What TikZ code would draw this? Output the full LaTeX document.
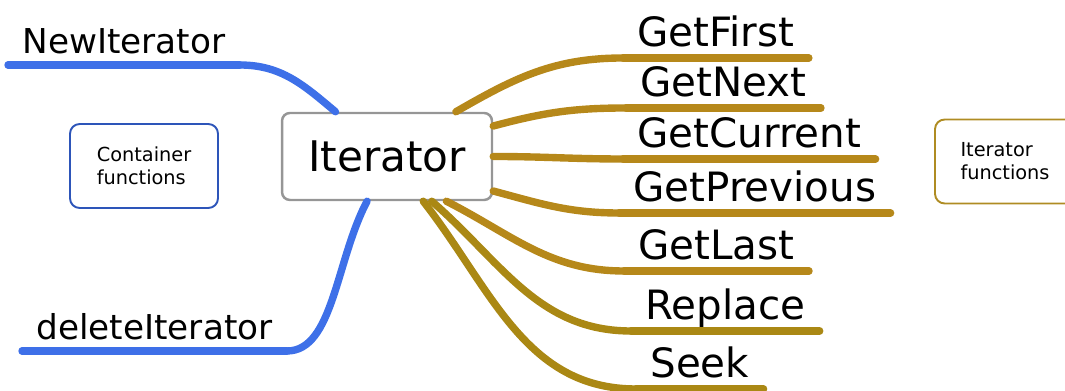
\documentclass[tikz,border=0pt]{standalone}
\usepackage{fontspec}
\setmainfont{DejaVu Sans}
\definecolor{branchblue}{RGB}{62,112,232}
\definecolor{boxblue}{RGB}{45,85,185}
\definecolor{branchgold}{RGB}{182,136,26}
\definecolor{brancholive}{RGB}{170,136,20}
\definecolor{boxgold}{RGB}{175,140,35}
\definecolor{boxgray}{RGB}{150,150,150}
\begin{document}
\begin{tikzpicture}[x=0.02cm,y=0.02cm]
	\useasboundingbox (0,0) rectangle (1065,391);
	
	\node (iter) at (387,234.5) [draw=boxgray,line width=1.4pt,rounded corners=4.5pt,minimum width=4.2cm,minimum height=1.74cm,font=\fontsize{24}{28}\selectfont] {Iterator};
	
	\begin{scope}[every node/.style={draw,line width=1.1pt,rounded corners=5.5pt,align=left,minimum height=1.68cm,font=\fontsize{11}{13}\selectfont}]
		\node (cont) [draw=boxblue,minimum width=2.96cm] at (144,225) {Container\\functions};
		\node (itfun) [draw=boxgold,minimum width=2.8cm] at (1005,229.5) {Iterator\\functions};
	\end{scope}
	
	\begin{scope}[every node/.style={anchor=south west,inner xsep=8pt,inner ysep=6.3pt,text depth=0pt,font=\fontsize{19.5}{23}\selectfont}]
		\node (newit) at (8,326) {NewIterator};
		\node (delit) at (22,40) {deleteIterator};
	\end{scope}
	
	\begin{scope}[every node/.style={anchor=south west,inner xsep=8pt,inner ysep=6.3pt,text depth=0pt,font=\fontsize{23}{27}\selectfont}]
		\node (first) at (623,333) {GetFirst};
		\node (next) at (626,283) {GetNext};
		\node (curr) at (623,232) {GetCurrent};
		\node (prev) at (619,178) {GetPrevious};
		\node (last) at (624,120) {GetLast};
		\node (repl) at (631,60) {Replace};
		\node (seek) at (636,2) {Seek};
	\end{scope}
	
	\begin{scope}[every edge/.style={draw=branchblue,line width=4.2pt,line cap=round}]
		\path (iter.139) edge [out=140,in=0] (newit.south east);
		\path (newit.south east) edge (newit.south west);
		\path (iter.246) edge [out=242,in=0,in looseness=0.7] (delit.south east);
		\path (delit.south east) edge (delit.south west);
	\end{scope}
	
	\begin{scope}[every edge/.style={draw=branchgold,line width=4.2pt,line cap=round}]
		\path (iter.33) edge [out=30,in=180] (first.south west);
		\path (first.south west) edge (first.south east);
		\path (iter.16) edge [out=15,in=180] (next.south west);
		\path (next.south west) edge (next.south east);
		\path (iter.0) edge [out=0,in=180] (curr.south west);
		\path (curr.south west) edge (curr.south east);
		\path (iter.-18) edge [out=-15,in=180] (prev.south west);
		\path (prev.south west) edge (prev.south east);
		\path (iter.-37) edge [out=-27,in=180] (last.south west);
		\path (last.south west) edge (last.south east);
	\end{scope}
	
	\begin{scope}[every edge/.style={draw=brancholive,line width=4.2pt,line cap=round}]
		\path (iter.-45) edge [out=-41,in=180] (repl.south west);
		\path (repl.south west) edge (repl.south east);
		\path (iter.-51) edge [out=-52,in=180] (seek.south west);
		\path (seek.south west) edge (seek.south east);
	\end{scope}
\end{tikzpicture}
\end{document}
